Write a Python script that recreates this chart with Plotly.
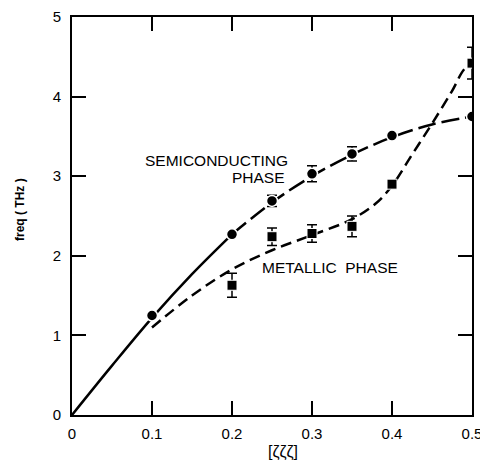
import plotly.graph_objects as go

# Measured points
semi_x = [0.1, 0.2, 0.25, 0.3, 0.35, 0.4, 0.5]
semi_y = [1.25, 2.27, 2.69, 3.03, 3.28, 3.51, 3.75]
semi_err = [0, 0, 0.07, 0.10, 0.09, 0, 0]

metal_x = [0.2, 0.25, 0.3, 0.35, 0.4, 0.5]
metal_y = [1.63, 2.24, 2.28, 2.37, 2.90, 4.42]
metal_err = [0.15, 0.11, 0.11, 0.13, 0, 0.20]

# Fitted dispersion curves
semi_curve_solid_x = [0.0, 0.05, 0.1, 0.15, 0.2]
semi_curve_solid_y = [0.0, 0.62, 1.22, 1.77, 2.27]
semi_curve_dash_x = [0.2, 0.25, 0.3, 0.35, 0.4, 0.45, 0.5]
semi_curve_dash_y = [2.27, 2.67, 3.0, 3.27, 3.49, 3.65, 3.75]

metal_curve_x = [0.1, 0.15, 0.2, 0.25, 0.3, 0.35, 0.38, 0.4, 0.425, 0.45, 0.475, 0.49, 0.5]
metal_curve_y = [1.1, 1.5, 1.83, 2.07, 2.26, 2.46, 2.66, 2.88, 3.27, 3.66, 4.07, 4.34, 4.42]

x_ticks = [0, 0.1, 0.2, 0.3, 0.4, 0.5]
x_tick_labels = ["0", "0.1", "0.2", "0.3", "0.4", "0.5"]
y_ticks = [0, 1, 2, 3, 4, 5]
y_tick_labels = ["0", "1", "2", "3", "4", "5"]

FONT = "Liberation Sans, Arial, sans-serif"

fig = go.Figure()

fig.add_trace(go.Scatter(x=semi_curve_solid_x, y=semi_curve_solid_y, mode="lines",
                         line=dict(color="black", width=2.5, shape="spline"),
                         hoverinfo="skip", showlegend=False))
fig.add_trace(go.Scatter(x=semi_curve_dash_x, y=semi_curve_dash_y, mode="lines",
                         line=dict(color="black", width=2.5, shape="spline", dash="18px,6px"),
                         hoverinfo="skip", showlegend=False))
fig.add_trace(go.Scatter(x=metal_curve_x, y=metal_curve_y, mode="lines",
                         line=dict(color="black", width=2.5, shape="spline", dash="11px,6px"),
                         hoverinfo="skip", showlegend=False))

fig.add_trace(go.Scatter(x=semi_x, y=semi_y, mode="markers",
                         marker=dict(symbol="circle", size=11, color="black",
                                     line=dict(color="white", width=1.5)),
                         error_y=dict(type="data", array=semi_err, visible=True,
                                      color="black", thickness=1.5, width=5),
                         showlegend=False))
fig.add_trace(go.Scatter(x=metal_x, y=metal_y, mode="markers",
                         marker=dict(symbol="square", size=10, color="black",
                                     line=dict(color="white", width=1)),
                         error_y=dict(type="data", array=metal_err, visible=True,
                                      color="black", thickness=1.5, width=5),
                         showlegend=False))

lab_font = dict(family=FONT, size=15.5, color="black")
fig.add_annotation(x=0.089, y=3.20, xref="x", yref="y", xanchor="left",
                   text="SEMICONDUCTING", showarrow=False, font=lab_font)
fig.add_annotation(x=0.269, y=2.98, xref="x", yref="y", xanchor="right",
                   text="PHASE", showarrow=False, font=lab_font)
fig.add_annotation(x=0.235, y=1.85, xref="x", yref="y", xanchor="left",
                   text="METALLIC  PHASE", showarrow=False, font=lab_font)

fig.add_annotation(x=0.5275, y=0, xref="paper", yref="paper", yshift=-37,
                   xanchor="center", yanchor="middle",
                   text="[ζζζ]", showarrow=False,
                   font=dict(family=FONT, size=16, color="black"))
fig.add_annotation(x=-0.13, y=0.515, xref="paper", yref="paper",
                   xanchor="center", yanchor="middle",
                   text="<b>freq ( THz )</b>", showarrow=False, textangle=-90,
                   font=dict(family=FONT, size=12, color="black"))

# page body has an 8px margin, so the figure is sized to fit the window
fig.update_layout(
    width=480, height=462,
    margin=dict(l=64, r=16, t=9, b=55, autoexpand=False),
    paper_bgcolor="white", plot_bgcolor="white",
    font=dict(family=FONT, size=15, color="black"),
)

fig.update_xaxes(range=[0, 0.5], tickvals=x_ticks, ticktext=x_tick_labels,
                 showline=True, linecolor="black", linewidth=2, mirror="ticks",
                 ticks="inside", ticklen=14, tickwidth=1.5, tickcolor="black",
                 showgrid=False, zeroline=False, ticklabelstandoff=4)
fig.update_yaxes(range=[0, 5], tickvals=y_ticks, ticktext=y_tick_labels,
                 showline=True, linecolor="black", linewidth=2, mirror="ticks",
                 ticks="inside", ticklen=14, tickwidth=1.5, tickcolor="black",
                 showgrid=False, zeroline=False, ticklabelstandoff=6)

fig.write_html("out.html")
